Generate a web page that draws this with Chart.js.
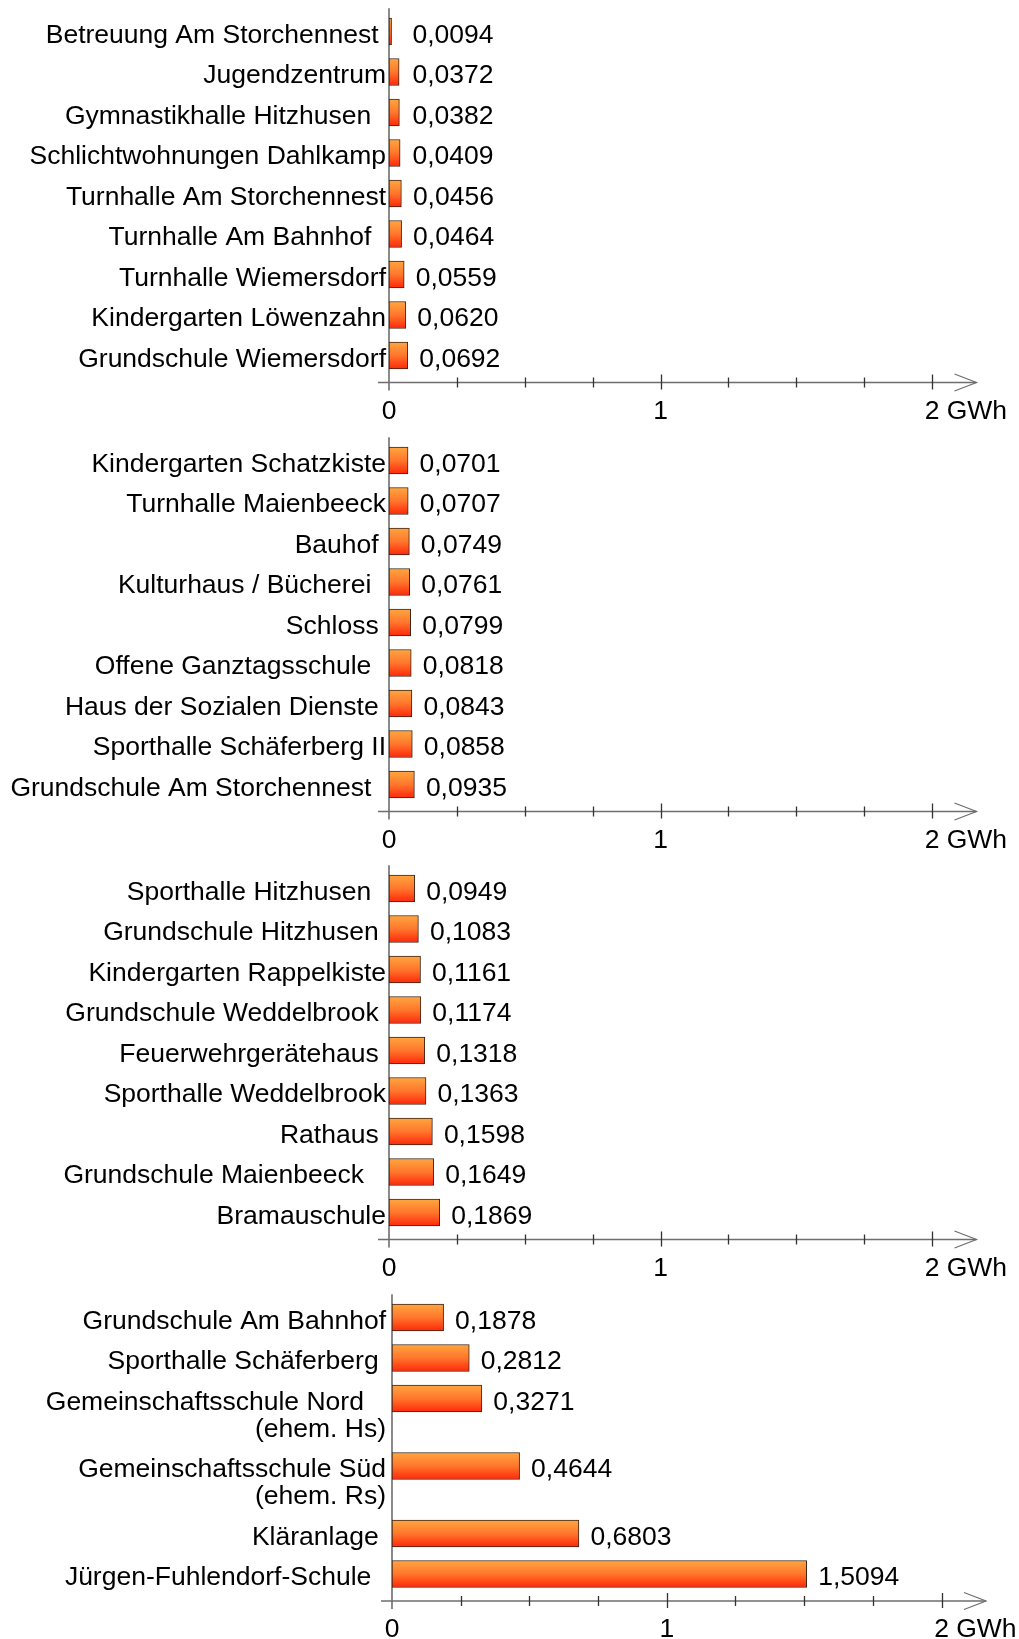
<!DOCTYPE html>
<html>
<head>
<meta charset="utf-8">
<script src="https://cdn.jsdelivr.net/npm/chart.js@4.4.1/dist/chart.umd.min.js"></script>
<style>
  body { margin: 0; background: #fff; }
  canvas { display: block; }
</style>
</head>
<body>
<canvas id="p1" width="1019" height="429"></canvas>
<canvas id="p2" width="1019" height="428"></canvas>
<canvas id="p3" width="1019" height="429"></canvas>
<canvas id="p4" width="1019" height="353"></canvas>
<script>
// --- data (GWh), one block per panel ---
var labels1 = ['Betreuung Am Storchennest ', 'Jugendzentrum', 'Gymnastikhalle Hitzhusen  ', 'Schlichtwohnungen Dahlkamp',
  'Turnhalle Am Storchennest', 'Turnhalle Am Bahnhof  ', 'Turnhalle Wiemersdorf', 'Kindergarten Löwenzahn', 'Grundschule Wiemersdorf'];
var values1 = [0.0094, 0.0372, 0.0382, 0.0409, 0.0456, 0.0464, 0.0559, 0.0620, 0.0692];

var labels2 = ['Kindergarten Schatzkiste', 'Turnhalle Maienbeeck', 'Bauhof ', 'Kulturhaus / Bücherei  ', 'Schloss ',
  'Offene Ganztagsschule  ', 'Haus der Sozialen Dienste ', 'Sporthalle Schäferberg II', 'Grundschule Am Storchennest  '];
var values2 = [0.0701, 0.0707, 0.0749, 0.0761, 0.0799, 0.0818, 0.0843, 0.0858, 0.0935];

var labels3 = ['Sporthalle Hitzhusen  ', 'Grundschule Hitzhusen ', 'Kindergarten Rappelkiste', 'Grundschule Weddelbrook ',
  'Feuerwehrgerätehaus ', 'Sporthalle Weddelbrook', 'Rathaus ', 'Grundschule Maienbeeck   ', 'Bramauschule'];
var values3 = [0.0949, 0.1083, 0.1161, 0.1174, 0.1318, 0.1363, 0.1598, 0.1649, 0.1869];

var labels4 = ['Grundschule Am Bahnhof', 'Sporthalle Schäferberg ', ['Gemeinschaftsschule Nord   ', '(ehem. Hs)'],
  ['Gemeinschaftsschule Süd', '(ehem. Rs)'], 'Kläranlage ', 'Jürgen-Fuhlendorf-Schule  '];
var values4 = [0.1878, 0.2812, 0.3271, 0.4644, 0.6803, 1.5094];

var xTicks = [0, 1, 2];
var xTickLabels = ['0', '1', '2 GWh'];
var xMax = 2;
var minorStep = 0.25;

// --- style ---
var FONT = '26.5px "Liberation Sans", Arial, sans-serif';
var ROW = 40.5;        // px per row
var LINE = 27;         // px per extra label line
var W = 1019;

function rowPositions(labels) {
  var pos = [], p = 0;
  labels.forEach(function (l, i) {
    if (i > 0) {
      var prev = labels[i - 1];
      p += 1 + (Array.isArray(prev) ? prev.length - 1 : 0) * (LINE / ROW);
    }
    pos.push(p);
  });
  return pos;
}

function barFill(c) {
  var chart = c.chart;
  if (!chart.chartArea || !c.parsed) return '#ff6020';
  var y = chart.scales.y.getPixelForValue(c.parsed.y);
  var g = chart.ctx.createLinearGradient(0, y - 13.5, 0, y + 13.5);
  g.addColorStop(0, '#ffa640');
  g.addColorStop(0.5, '#ff762c');
  g.addColorStop(1, '#ff280a');
  return g;
}

var axisPlugin = {
  id: 'gwhAxis',
  beforeDatasetsDraw: function (chart) {
    var ctx = chart.ctx, xs = chart.scales.x, area = chart.chartArea;
    var x0 = xs.getPixelForValue(0), ay = area.bottom;
    var tip = xs.getPixelForValue(xMax) + 44.5;
    ctx.save();
    ctx.strokeStyle = '#6e6e6e';
    ctx.lineWidth = 1.6;
    ctx.beginPath();
    ctx.moveTo(x0 - 11, ay); ctx.lineTo(tip, ay);
    ctx.moveTo(x0, area.top - 3); ctx.lineTo(x0, ay + 8);
    ctx.stroke();
    ctx.lineWidth = 1.2;
    ctx.beginPath();
    ctx.moveTo(tip - 22, ay - 8.5); ctx.lineTo(tip, ay); ctx.lineTo(tip - 22, ay + 8.5);
    ctx.stroke();
    // tick marks
    ctx.strokeStyle = '#333';
    ctx.lineWidth = 1.3;
    ctx.beginPath();
    for (var k = 1; k * minorStep <= xMax + 1e-9; k++) {
      var v = k * minorStep, px = Math.round(xs.getPixelForValue(v)) + 0.5;
      var major = xTicks.indexOf(v) >= 0;
      ctx.moveTo(px, ay - (major ? 8 : 5));
      ctx.lineTo(px, ay + (major ? 7 : 5));
    }
    ctx.stroke();
    ctx.restore();
  },
  afterDatasetsDraw: function (chart) {
    var ctx = chart.ctx, xs = chart.scales.x, ys = chart.scales.y, area = chart.chartArea;
    var x0 = xs.getPixelForValue(0), ay = area.bottom;
    var opts = chart.config.options.panel;
    var ds = chart.data.datasets[0];
    ctx.save();
    ctx.font = FONT;
    ctx.fillStyle = '#000';
    ctx.textBaseline = 'alphabetic';
    opts.labels.forEach(function (lab, i) {
      var y = ys.getPixelForValue(ds.data[i].y);
      var lines = Array.isArray(lab) ? lab : [lab];
      ctx.textAlign = 'right';
      lines.forEach(function (t, j) {
        ctx.fillText(t, x0 - opts.labelGap, y + 11 + j * LINE);
      });
      var v = ds.data[i].x;
      var bx = Math.max(xs.getPixelForValue(v) + 11.5, x0 + 23.5);
      ctx.textAlign = 'left';
      ctx.fillText(v.toFixed(4).replace('.', ','), bx, y + 11);
    });
    // x tick labels
    xTicks.forEach(function (t, i) {
      var px = xs.getPixelForValue(t);
      var num = String(t);
      ctx.textAlign = 'left';
      ctx.fillText(xTickLabels[i], px - ctx.measureText(num).width / 2, ay + 36);
    });
    ctx.restore();
  }
};

function makePanel(id, labels, values, zeroX, twoX, labelGap) {
  var canvas = document.getElementById(id);
  var H = canvas.height;
  var pos = rowPositions(labels);
  var last = pos[pos.length - 1];
  var yMin = -0.5, yMax = last + 2 / 3;
  var top = 11.25;
  var areaH = (yMax - yMin) * ROW;
  return new Chart(canvas, {
    type: 'bar',
    data: {
      datasets: [{
        data: values.map(function (v, i) { return { x: v, y: pos[i] }; }),
        backgroundColor: barFill,
        borderColor: '#3a2418',
        borderWidth: 1,
        borderSkipped: false,
        barThickness: 27
      }]
    },
    options: {
      indexAxis: 'y',
      responsive: false,
      animation: false,
      panel: { labels: labels, labelGap: labelGap },
      layout: { padding: { left: zeroX, right: W - twoX, top: top, bottom: H - top - areaH } },
      scales: {
        x: { type: 'linear', display: false, offset: false, min: 0, max: xMax },
        y: { type: 'linear', display: false, offset: false, reverse: true, min: yMin, max: yMax }
      },
      plugins: { legend: { display: false }, tooltip: { enabled: false } }
    },
    plugins: [axisPlugin]
  });
}

makePanel('p1', labels1, values1, 389, 932, 3);
makePanel('p2', labels2, values2, 389, 932, 3);
makePanel('p3', labels3, values3, 389, 932, 3);
makePanel('p4', labels4, values4, 392, 941.5, 6);
</script>
</body>
</html>
